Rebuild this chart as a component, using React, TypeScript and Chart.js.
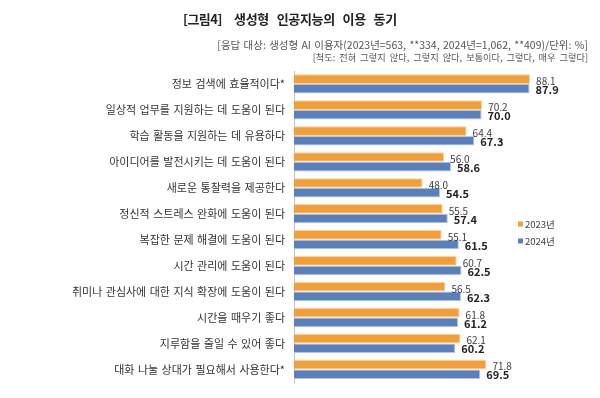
import React, { useEffect, useRef } from "react";
import { Chart, registerables } from "chart.js";

Chart.register(...registerables);

const categories = [
  "정보 검색에 효율적이다*",
  "일상적 업무를 지원하는 데 도움이 된다",
  "학습 활동을 지원하는 데 유용하다",
  "아이디어를 발전시키는 데 도움이 된다",
  "새로운 통찰력을 제공한다",
  "정신적 스트레스 완화에 도움이 된다",
  "복잡한 문제 해결에 도움이 된다",
  "시간 관리에 도움이 된다",
  "취미나 관심사에 대한 지식 확장에 도움이 된다",
  "시간을 때우기 좋다",
  "지루함을 줄일 수 있어 좋다",
  "대화 나눌 상대가 필요해서 사용한다*",
];
const values2023 = [88.1, 70.2, 64.4, 56.0, 48.0, 55.5, 55.1, 60.7, 56.5, 61.8, 62.1, 71.8];
const values2024 = [87.9, 70.0, 67.3, 58.6, 54.5, 57.4, 61.5, 62.5, 62.3, 61.2, 60.2, 69.5];
const seriesNames = ["2023년", "2024년"];
const titleLead = "[그림4]";
const titleText = "생성형 인공지능의 이용 동기";
const subtitle1 = "[응답 대상: 생성형 AI 이용자(2023년=563, **334, 2024년=1,062, **409)/단위: %]";
const subtitle2 = "[척도: 전혀 그렇지 않다, 그렇지 않다, 보통이다, 그렇다, 매우 그렇다]";

const ORANGE = "#F29F38";
const BLUE = "#5A7FBD";
const FONT = "'Noto Sans CJK KR', 'Noto Sans', sans-serif";

const spacing = {
  id: "spacing",
  beforeDraw(chart: any) {
    const ctx = chart.ctx;
    ctx.wordSpacing = "1px";
  },
};

const overlay = {
  id: "overlay",
  afterDatasetsDraw(chart: any) {
    const ctx = chart.ctx;
    ctx.save();
    ctx.wordSpacing = "0px";
    // value labels
    chart.data.datasets.forEach((ds: any, di: number) => {
      const meta = chart.getDatasetMeta(di);
      meta.data.forEach((bar: any, i: number) => {
        const v = ds.data[i];
        ctx.textBaseline = "middle";
        ctx.textAlign = "left";
        if (di === 0) {
          ctx.font = `10px ${FONT}`;
          ctx.fillStyle = "#404040";
          ctx.fillText(v.toFixed(1), bar.x + 6, bar.y + 2);
        } else {
          ctx.font = `bold 11px ${FONT}`;
          ctx.fillStyle = "#222";
          ctx.fillText(v.toFixed(1), bar.x + 6, bar.y + 1);
        }
      });
    });
    // title
    ctx.textBaseline = "middle";
    ctx.textAlign = "left";
    ctx.fillStyle = "#222";
    ctx.font = `bold 13px ${FONT}`;
    ctx.letterSpacing = "-0.5px";
    ctx.fillText(titleLead, 183, 19);
    ctx.letterSpacing = "-0.3px";
    ctx.wordSpacing = "5px";
    ctx.fillText(titleText, 234, 19);
    ctx.letterSpacing = "0px";
    ctx.textAlign = "right";
    ctx.fillStyle = "#555";
    ctx.wordSpacing = "1px";
    ctx.font = `10.5px ${FONT}`;
    ctx.fillText(subtitle1, 588, 45);
    ctx.wordSpacing = "2px";
    ctx.font = `9.2px ${FONT}`;
    ctx.fillText(subtitle2, 588, 58);
    // legend
    ctx.wordSpacing = "0px";
    const colors = [ORANGE, BLUE];
    const ys = [224, 241];
    ctx.textAlign = "left";
    ctx.font = `9.5px ${FONT}`;
    for (let k = 0; k < 2; k++) {
      ctx.fillStyle = colors[k];
      ctx.fillRect(518, ys[k] - 2.5, 5, 5);
      ctx.fillStyle = "#404040";
      ctx.fillText(seriesNames[k], 525, ys[k]);
    }
    ctx.restore();
  },
};

export default function App() {
  const ref = useRef<HTMLCanvasElement>(null);
  useEffect(() => {
    if (!ref.current) return;
    const chart = new Chart(ref.current, {
      type: "bar",
      data: {
        labels: categories,
        datasets: [
          {
            label: seriesNames[0],
            data: values2023,
            backgroundColor: ORANGE,
            borderColor: "#F8D3A5",
            borderWidth: 1,
            categoryPercentage: 0.74,
            barPercentage: 1.0,
          },
          {
            label: seriesNames[1],
            data: values2024,
            backgroundColor: BLUE,
            borderColor: "#B5C6E2",
            borderWidth: 1,
            categoryPercentage: 0.74,
            barPercentage: 1.0,
          },
        ],
      },
      options: {
        indexAxis: "y",
        responsive: false,
        animation: false,
        layout: { padding: { top: 71, bottom: 3, left: 0, right: 38 } },
        plugins: { legend: { display: false }, tooltip: { enabled: false }, title: { display: false } },
        scales: {
          x: { display: false, min: 0, max: 100 },
          y: {
            afterFit(scale: any) {
              scale.width = 294;
            },
            grid: { display: false, drawTicks: false },
            border: { display: true, color: "#BFBFBF", width: 1 },
            ticks: {
              autoSkip: false,
              padding: 9,
              color: "#333",
              font: { family: FONT, size: 11 },
            },
          },
        },
      },
      plugins: [spacing, overlay],
    });
    return () => chart.destroy();
  }, []);
  return (
    <div style={{ position: "fixed", left: 0, top: 0, width: 600, height: 398, background: "#fff" }}>
      <canvas ref={ref} width={600} height={398} />
    </div>
  );
}
